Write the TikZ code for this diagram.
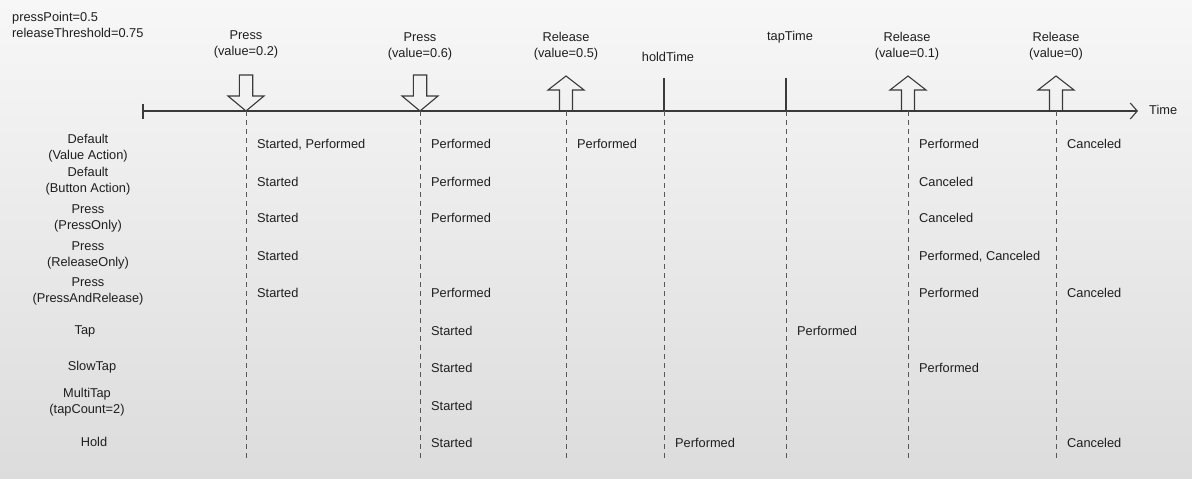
\documentclass[tikz,border=0pt]{standalone}
\usepackage{fontspec}
\setmainfont{Liberation Sans}
\usepackage{tikz}
\usetikzlibrary{calc}
\usetikzlibrary{positioning}
\usetikzlibrary{arrows.meta}
\definecolor{bgtop}{HTML}{F7F7F7}
\definecolor{bgbot}{HTML}{DCDCDC}
\definecolor{ink}{HTML}{1E1E1E}
\definecolor{pen}{HTML}{3A3A3A}
\tikzset{
	>={Straight Barb[length=7pt,width=16pt]},
	timeline/.style={draw=pen, line width=1.1pt},
	blockarrow/.style={draw=pen, line width=1.1pt, line join=miter},
	marker/.style={draw=pen, line width=1.6pt},
	guide/.style={draw=pen!85, line width=1pt, dash pattern=on 4.5pt off 4.5pt},
	evlabel/.style={align=center, text=ink, inner sep=0pt},
	rowlabel/.style={align=center, text=ink, inner sep=0pt},
	evt/.style={anchor=west, text=ink, inner sep=0pt, xshift=11pt,
		text height=9.2pt, text depth=0pt},
}

\begin{document}
\begin{tikzpicture}
	[x=1pt, y=-1pt,
	font=\fontsize{12.8pt}{16pt}\selectfont]
	\useasboundingbox[top color=bgtop, bottom color=bgbot] (0,0) rectangle (1192,479);

	\node[evlabel, anchor=west, align=left] (params) at (12,24.5) {pressPoint=0.5\\releaseThreshold=0.75};

	% time axis
	\coordinate (start) at (143,111);
	\coordinate (tip) at (1138,111);
	\coordinate (bot) at (0,462);
	\draw[timeline] (start) ++(0,-7.5) -- ++(0,15);
	\draw[timeline, ->] (start) -- (tip);
	\node[anchor=west, text=ink, inner sep=0pt] (time) at (1149,110) {Time};

	\coordinate (p1) at (246,111);
	\coordinate (p2) at (420,111);
	\coordinate (r1) at (566,111);
	\coordinate (h) at (664,111);
	\coordinate (t) at (786,111);
	\coordinate (r2) at (908,111);
	\coordinate (r3) at (1056,111);

	% press and release arrows
	\foreach \c in {p1,p2}
		\draw[blockarrow] (\c) ++(-6.7,-36) -- ++(13.4,0) -- ++(0,21) -- ++(11.3,0) -- (\c) -- ++(-18,-15) -- ++(11.3,0) -- cycle;
	\foreach \c in {r1,r2,r3}
		\draw[blockarrow] (\c) ++(-6.5,0) -- ++(0,-21) -- ++(-11.5,0) -- ++(18,-14) -- ++(18,14) -- ++(-11.5,0) -- ++(0,21);
	\draw[marker] (h) -- ++(0,-33);
	\draw[marker] (t) -- ++(0,-33);

	\node[evlabel] (lp1) at (246,44) {Press\\(value=0.2)};
	\node[evlabel] (lp2) at (420,46) {Press\\(value=0.6)};
	\node[evlabel] (lr1) at (566,46) {Release\\(value=0.5)};
	\node[evlabel] (lh) at (668,57) {holdTime};
	\node[evlabel] (lt) at (790,37) {tapTime};
	\node[evlabel] (lr2) at (907,46) {Release\\(value=0.1)};
	\node[evlabel] (lr3) at (1056,46) {Release\\(value=0)};

	\foreach \c in {p1,p2,r1,h,t,r2,r3}
		\draw[guide] (\c) -- (\c |- bot);

	% interactions
	\foreach \x/\y/\t [count=\i] in {88/148/{Default\\(Value Action)}, 88/181/{Default\\(Button Action)},
		88/218/{Press\\(PressOnly)}, 88/255/{Press\\(ReleaseOnly)}, 88/291/{Press\\(PressAndRelease)},
		85/331/Tap, 92/367/SlowTap, 87/402/{MultiTap\\(tapCount=2)}, 94/442/Hold}
		\node[rowlabel] (row\i) at (\x,\y) {\t};

	\foreach \c/\y/\t [count=\i] in {p1/144/{Started, Performed}, p2/144/Performed, r1/144/Performed, r2/144/Performed, r3/144/Canceled,
		p1/182/Started, p2/182/Performed, r2/182/Canceled,
		p1/218/Started, p2/218/Performed, r2/218/Canceled,
		p1/256/Started, r2/256/{Performed, Canceled},
		p1/293/Started, p2/293/Performed, r2/293/Performed, r3/293/Canceled,
		p2/331/Started, t/331/Performed,
		p2/368/Started, r2/368/Performed,
		p2/406/Started,
		p2/443/Started, h/443/Performed, r3/443/Canceled}
		\node[evt] (ev\i) at (\c |- 0,\y) {\t};

\end{tikzpicture}
\end{document}
